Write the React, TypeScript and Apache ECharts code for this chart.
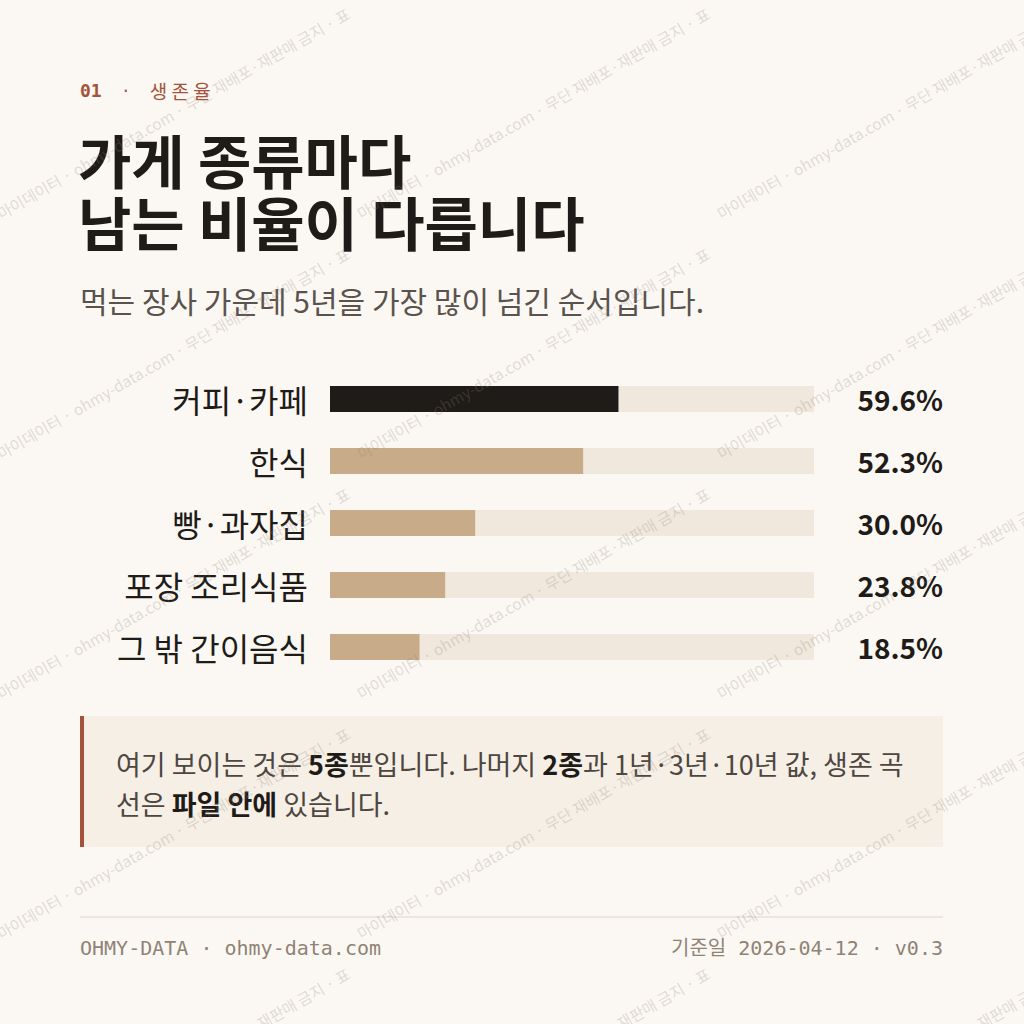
import { useEffect, useRef } from 'react';
import * as echarts from 'echarts';

// 5년 생존율 (%)
const categories = ['커피·카페', '한식', '빵·과자집', '포장 조리식품', '그 밖 간이음식'];
const survivalRates = [59.6, 52.3, 30.0, 23.8, 18.5];
const highlightCategory = '커피·카페';
const axisMax = 100;

const kickerNumber = '01';
const kickerLabel = '생존율';
const titleLines = ['가게 종류마다', '남는 비율이 다릅니다'];
const subtitle = '먹는 장사 가운데 5년을 가장 많이 넘긴 순서입니다.';
const footerLeft = 'OHMY-DATA · ohmy-data.com';
const footerRight = '기준일 2026-04-12 · v0.3';
const watermarkText = '마이데이터 · ohmy-data.com · 무단 재배포·재판매 금지 · 표';

const SANS = '"Noto Sans CJK KR", "Noto Sans", sans-serif';
const MONO = '"DejaVu Sans Mono", "Liberation Mono", "Noto Sans CJK KR", monospace';

const INK = '#1f1b18';
const ACCENT = '#a5523b';
const BAR = '#c8ab89';
const TRACK = '#f0e8dc';
const BG = '#fbf8f3';

function buildWatermarks() {
  const items: any[] = [];
  for (let row = 0; row < 5; row++) {
    for (let col = 0; col < 3; col++) {
      items.push({
        type: 'text',
        x: col * 360 - 2,
        y: 214 + row * 240,
        rotation: Math.PI / 6,
        z: 100,
        silent: true,
        style: {
          text: watermarkText,
          font: `15.5px ${SANS}`,
          fill: 'rgba(140, 128, 118, 0.26)',
          align: 'left',
          verticalAlign: 'middle',
          textAlign: 'left',
          textVerticalAlign: 'middle',
        },
      });
    }
  }
  return items;
}

export default function App() {
  const chartRef = useRef<HTMLDivElement>(null);

  useEffect(() => {
    if (!chartRef.current) return;
    const chart = echarts.init(chartRef.current, null, { renderer: 'svg' });

    const calloutRich = {
      r: { font: `27px ${SANS}`, fill: '#4d4641' },
      b: { font: `bold 27px ${SANS}`, fill: INK },
    };

    const option = {
      animation: false,
      backgroundColor: BG,
      grid: { left: 330, right: 210, top: 368, height: 310, containLabel: false },
      xAxis: { type: 'value', min: 0, max: axisMax, show: false },
      yAxis: [
        {
          type: 'category',
          data: categories,
          inverse: true,
          axisLine: { show: false },
          axisTick: { show: false },
          splitLine: { show: false },
          axisLabel: {
            margin: 22,
            fontSize: 32,
            fontFamily: SANS,
            color: INK,
          },
        },
        {
          type: 'category',
          data: categories,
          inverse: true,
          position: 'right',
          axisLine: { show: false },
          axisTick: { show: false },
          splitLine: { show: false },
          axisLabel: {
            margin: 129,
            align: 'right',
            fontSize: 28,
            fontWeight: 'bold',
            fontFamily: SANS,
            color: INK,
            formatter: (_v: string, i: number) => survivalRates[i].toFixed(1) + '%',
          },
        },
      ],
      series: [
        {
          type: 'bar',
          barWidth: 26,
          showBackground: true,
          backgroundStyle: { color: TRACK },
          data: survivalRates.map((v, i) => ({
            value: v,
            itemStyle: { color: categories[i] === highlightCategory ? INK : BAR },
          })),
        },
      ],
      graphic: [
        {
          type: 'text',
          x: 80,
          y: 90,
          style: {
            text: `{n|${kickerNumber}}{d|  ·  }{k|${kickerLabel.split('').join(' ')}}`,
            verticalAlign: 'middle',
            textVerticalAlign: 'middle',
            rich: {
              n: { font: `bold 18px ${MONO}`, fill: ACCENT },
              d: { font: `16px ${MONO}`, fill: ACCENT },
              k: { font: `19px ${SANS}`, fill: ACCENT },
            },
          },
        },
        ...titleLines.map((line, i) => ({
          type: 'text',
          x: 78,
          y: 159 + i * 62,
          style: {
            text: line,
            font: `bold 58px ${SANS}`,
            fill: INK,
            verticalAlign: 'middle',
            textVerticalAlign: 'middle',
          },
        })),
        {
          type: 'text',
          x: 80,
          y: 300,
          style: {
            text: subtitle,
            font: `30px ${SANS}`,
            fill: '#5a534d',
            verticalAlign: 'middle',
            textVerticalAlign: 'middle',
          },
        },
        {
          type: 'rect',
          shape: { x: 80, y: 716, width: 863, height: 131 },
          style: { fill: '#f6efe5' },
        },
        {
          type: 'rect',
          shape: { x: 80, y: 716, width: 4, height: 131 },
          style: { fill: ACCENT },
        },
        {
          type: 'text',
          x: 116,
          y: 763,
          style: {
            text: '{r|여기 보이는 것은 }{b|5종}{r|뿐입니다. 나머지 }{b|2종}{r|과 1년·3년·10년 값, 생존 곡}',
            verticalAlign: 'middle',
            textVerticalAlign: 'middle',
            rich: calloutRich,
          },
        },
        {
          type: 'text',
          x: 116,
          y: 803,
          style: {
            text: '{r|선은 }{b|파일 안에}{r| 있습니다.}',
            verticalAlign: 'middle',
            textVerticalAlign: 'middle',
            rich: calloutRich,
          },
        },
        {
          type: 'line',
          shape: { x1: 80, y1: 917, x2: 943, y2: 917 },
          style: { stroke: '#e8e1d6', lineWidth: 1.5 },
        },
        {
          type: 'text',
          x: 80,
          y: 948,
          style: {
            text: footerLeft,
            font: `20px ${MONO}`,
            fill: '#8f8376',
            verticalAlign: 'middle',
            textVerticalAlign: 'middle',
          },
        },
        {
          type: 'text',
          x: 943,
          y: 948,
          style: {
            text: footerRight,
            font: `20px ${MONO}`,
            fill: '#8f8376',
            align: 'right',
            textAlign: 'right',
            verticalAlign: 'middle',
            textVerticalAlign: 'middle',
          },
        },
        ...buildWatermarks(),
      ],
    };

    chart.setOption(option);
    return () => {
      chart.dispose();
    };
  }, []);

  return (
    <div
      ref={chartRef}
      style={{ position: 'absolute', left: 0, top: 0, width: 1024, height: 1024 }}
    />
  );
}
